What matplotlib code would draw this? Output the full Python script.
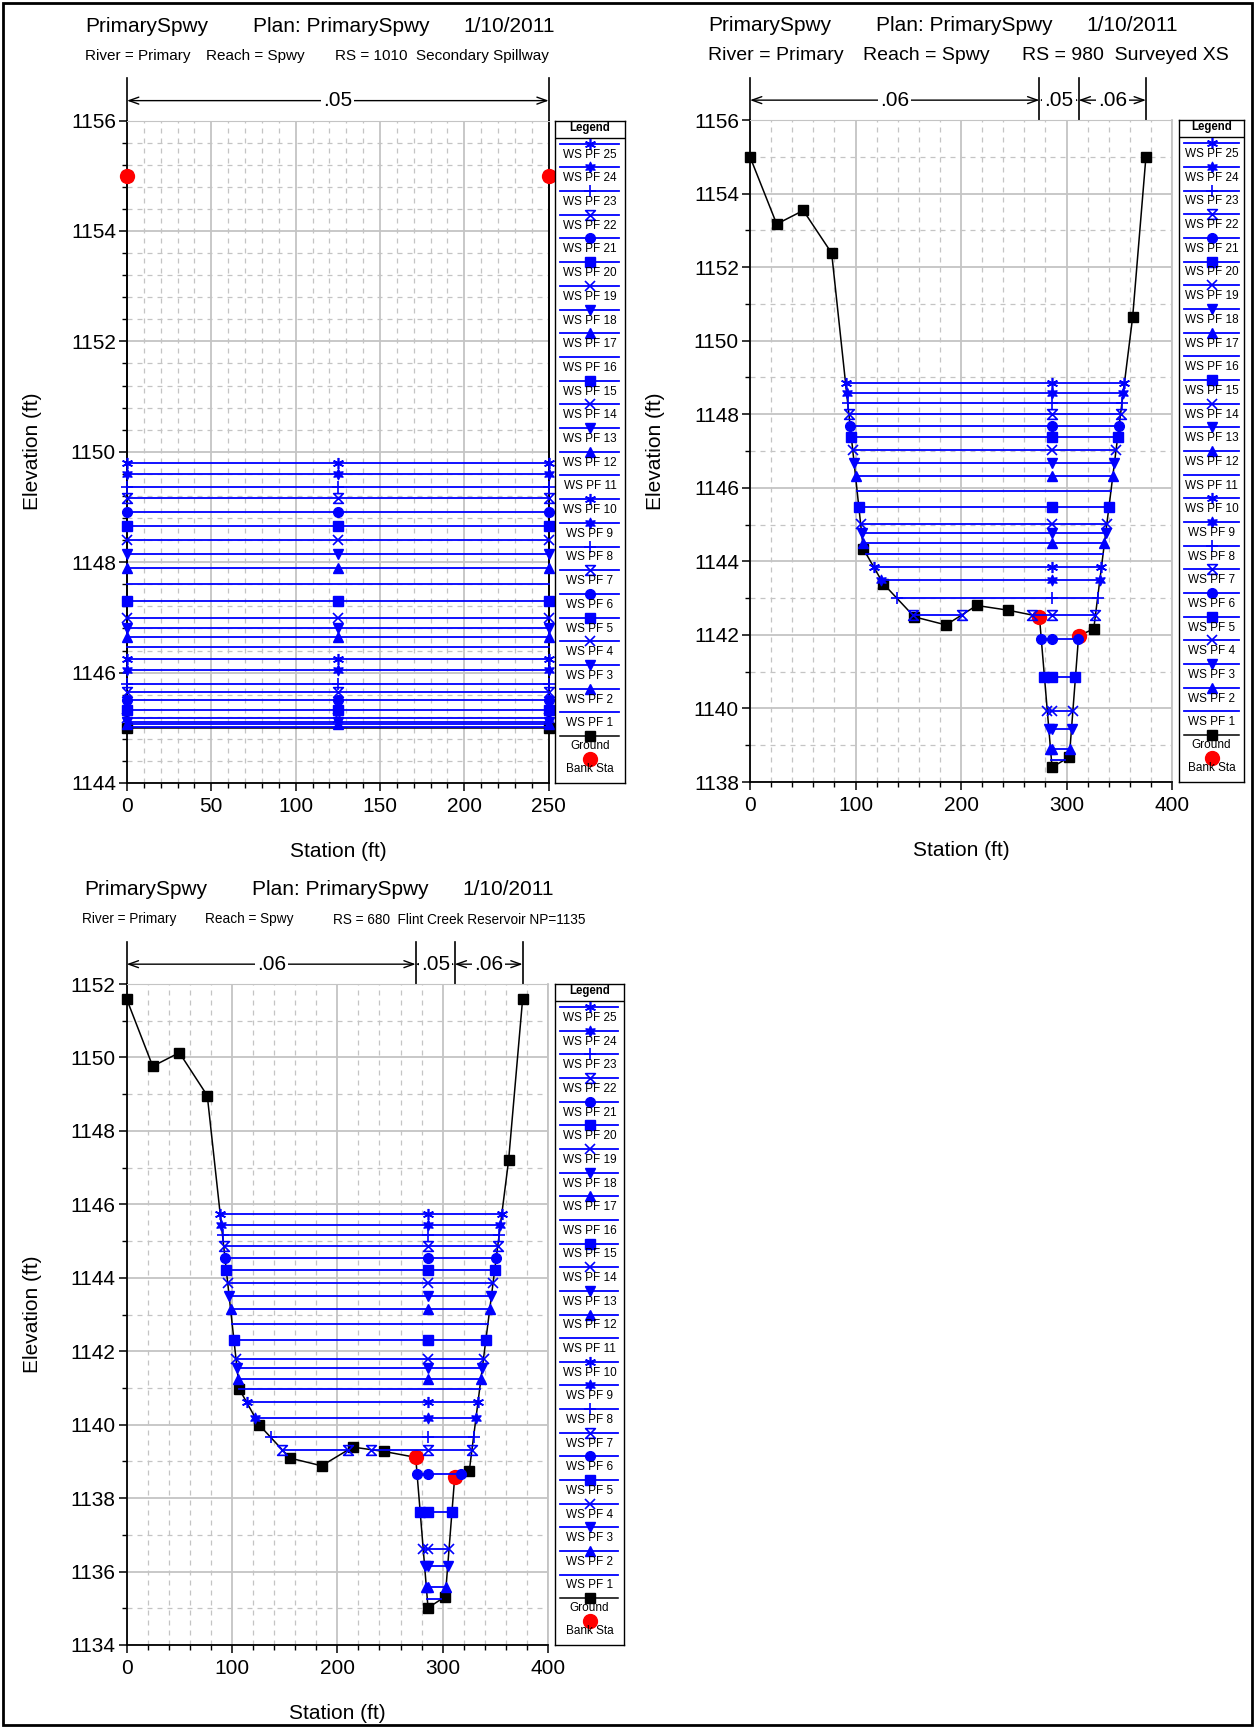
import matplotlib
matplotlib.use('Agg')
import matplotlib.pyplot as plt
from matplotlib.path import Path
from matplotlib.ticker import MultipleLocator
from matplotlib.transforms import blended_transform_factory
from matplotlib.patches import Rectangle

plt.rcParams['font.family'] = ['Liberation Sans', 'DejaVu Sans']

# ---- data -------------------------------------------------------------
pf_names = ['WS PF %d' % i for i in range(25, 0, -1)]
pf_marks = ['ast', 'star', 'plus', 'glass', 'o', 's', 'x', 'v', '^', None,
            's', 'x', 'v', '^', None,
            'ast', 'star', 'plus', 'glass', 'o', 's', 'x', 'v', '^', None]

# RS 1010 Secondary Spillway
g1010_sta = [0, 0, 250, 250]
g1010_elev = [1155.0, 1145.0, 1145.0, 1155.0]
bank1010_sta = [0, 250]
bank1010_elev = [1155.0, 1155.0]
ws1010 = [1149.80, 1149.60, 1149.37, 1149.16, 1148.91, 1148.66, 1148.41, 1148.14,
          1147.89, 1147.61, 1147.30, 1146.98, 1146.81, 1146.64, 1146.46, 1146.25,
          1146.04, 1145.79, 1145.65, 1145.50, 1145.32, 1145.17, 1145.11, 1145.07, 1145.02]
n1010_sta = [0, 250]
n1010_val = ['.05']

# RS 980 Surveyed XS
g980_sta = [0, 25.3, 50.5, 77.4, 107.4, 126.4, 155.8, 185.8, 214.9, 244.9,
            274.3, 286.3, 302.7, 311.5, 325.8, 362.7, 375.3]
g980_elev = [1155.0, 1153.17, 1153.54, 1152.38, 1144.34, 1143.39, 1142.49, 1142.27,
             1142.80, 1142.67, 1142.50, 1138.40, 1138.68, 1141.98, 1142.16, 1150.64, 1155.0]
bank980_sta = [274.3, 311.5]
bank980_elev = [1142.50, 1141.98]
ws980 = [1148.85, 1148.57, 1148.30, 1148.00, 1147.68, 1147.37, 1147.03, 1146.67,
         1146.31, 1145.91, 1145.48, 1145.01, 1144.77, 1144.50, 1144.19, 1143.84,
         1143.50, 1143.00, 1142.54, 1141.89, 1140.85, 1139.92, 1139.45, 1138.91, 1138.61]
n980_sta = [0, 274.3, 311.5, 375.3]
n980_val = ['.06', '.05', '.06']

# RS 680 Flint Creek Reservoir
g680_sta = [0, 24.7, 50.0, 76.5, 106.9, 125.9, 155.0, 185.1, 214.6, 244.3,
            274.4, 286.1, 302.5, 311.4, 325.3, 362.6, 375.9]
g680_elev = [1151.59, 1149.76, 1150.13, 1148.96, 1140.97, 1139.99, 1139.09, 1138.88,
             1139.39, 1139.27, 1139.11, 1135.01, 1135.32, 1138.57, 1138.75, 1147.20, 1151.59]
bank680_sta = [274.4, 311.4]
bank680_elev = [1139.11, 1138.57]
ws680 = [1145.74, 1145.45, 1145.16, 1144.86, 1144.55, 1144.21, 1143.87, 1143.51,
         1143.14, 1142.73, 1142.30, 1141.80, 1141.53, 1141.25, 1140.97, 1140.61,
         1140.18, 1139.66, 1139.32, 1138.65, 1137.61, 1136.62, 1136.14, 1135.57, 1135.25]
n680_sta = [0, 274.4, 311.4, 375.9]
n680_val = ['.06', '.05', '.06']

title_parts = ['PrimarySpwy', 'Plan: PrimarySpwy', '1/10/2011']

W, H = 1255, 1728
BLUE = '#0000ff'
GRID = '#c4c4c4'

glass = Path([(-1, 1), (1, 1), (-1, -1), (1, -1), (-1, 1)],
             [Path.MOVETO, Path.LINETO, Path.LINETO, Path.LINETO, Path.CLOSEPOLY])
mstyle = {
    'ast': dict(marker=(6, 2, 0), ms=8, mew=1.2),
    'star': dict(marker=(6, 1, 0), ms=8, mew=0.8),
    'plus': dict(marker='+', ms=9, mew=1.2),
    'glass': dict(marker=glass, ms=7, mfc='none', mew=1.2),
    'o': dict(marker='o', ms=7),
    's': dict(marker='s', ms=7),
    'x': dict(marker='x', ms=7, mew=1.2),
    'v': dict(marker='v', ms=7),
    '^': dict(marker='^', ms=7),
}


def wet_spans(sta, elev, z):
    xs = []
    for i in range(len(sta) - 1):
        e0, e1 = elev[i], elev[i + 1]
        if (e0 > z) != (e1 > z):
            xs.append(sta[i] + (z - e0) / (e1 - e0) * (sta[i + 1] - sta[i]))
    return [(xs[k], xs[k + 1]) for k in range(0, len(xs) - 1, 2)]


def px_axes(left, top, right, bottom):
    return fig.add_axes([left / W, 1 - bottom / H, (right - left) / W, (bottom - top) / H])


fig = plt.figure(figsize=(W / 100, H / 100), dpi=100)

panels = [
    dict(box=(127, 120.5, 548.7, 783), leg=(555, 625), xlim=(0, 250), ylim=(1144, 1156),
         xmaj=50, ymaj=2, ymin=0.4, gs=g1010_sta, ge=g1010_elev, bs=bank1010_sta,
         be=bank1010_elev, ws=ws1010, mid=125, ns=n1010_sta, nv=n1010_val,
         sub=[('River = Primary', -42), ('Reach = Spwy', 79), ('RS = 1010  Secondary Spillway', 208)],
         subsize=11, rspine='k'),
    dict(box=(750, 120, 1172, 782), leg=(1179, 1244), xlim=(0, 400), ylim=(1138, 1156),
         xmaj=100, ymaj=2, ymin=1, gs=g980_sta, ge=g980_elev, bs=bank980_sta,
         be=bank980_elev, ws=ws980, mid=286, ns=n980_sta, nv=n980_val,
         sub=[('River = Primary', -42), ('Reach = Spwy', 113), ('RS = 980  Surveyed XS', 272)],
         subsize=14, rspine=GRID),
    dict(box=(126.7, 984, 548, 1645), leg=(555, 624), xlim=(0, 400), ylim=(1134, 1152),
         xmaj=100, ymaj=2, ymin=1, gs=g680_sta, ge=g680_elev, bs=bank680_sta,
         be=bank680_elev, ws=ws680, mid=286, ns=n680_sta, nv=n680_val,
         sub=[('River = Primary', -45), ('Reach = Spwy', 78),
              ('RS = 680  Flint Creek Reservoir NP=1135', 206)],
         subsize=9.8, rspine=GRID),
]

for p in panels:
    l, t, r, b = p['box']
    ax = px_axes(l, t, r, b)
    ax.set_xlim(*p['xlim'])
    ax.set_ylim(*p['ylim'])
    ax.xaxis.set_major_locator(MultipleLocator(p['xmaj']))
    ax.xaxis.set_minor_locator(MultipleLocator(p['xmaj'] / 5))
    ax.yaxis.set_major_locator(MultipleLocator(p['ymaj']))
    ax.yaxis.set_minor_locator(MultipleLocator(p['ymin']))
    ax.set_axisbelow(True)
    ax.grid(which='major', color=GRID, lw=1.3, ls='-')
    ax.grid(which='minor', color=GRID, lw=0.9, ls=(0, (4, 4)))
    ax.tick_params(which='major', direction='out', length=6, width=1.1, labelsize=15, pad=2)
    ax.tick_params(which='minor', direction='out', length=3.5, width=1.0)
    ax.tick_params(axis='x', which='major', pad=4)
    for s in ['left', 'bottom']:
        ax.spines[s].set_linewidth(1.3)
    ax.spines['top'].set_color(GRID)
    ax.spines['right'].set_color(p['rspine'])
    ax.spines['right'].set_linewidth(1.3)

    # ground and bank stations
    ax.plot(p['gs'], p['ge'], color='k', lw=1.1, marker='s', ms=7, zorder=3, clip_on=False)
    ax.plot(p['bs'], p['be'], ls='none', marker='o', ms=10, color='#ff0000', zorder=4, clip_on=False)

    # water surfaces
    for z, mk in zip(p['ws'], p['ws'] and pf_marks):
        spans = wet_spans(p['gs'], p['ge'], z)
        pts = []
        for a, c in spans:
            ax.plot([a, c], [z, z], color=BLUE, lw=1.3, zorder=5, clip_on=False)
            pts += [a, c]
            if a <= p['mid'] <= c:
                pts.append(p['mid'])
        if mk is not None:
            ax.plot(pts, [z] * len(pts), ls='none', color=BLUE, zorder=6, clip_on=False,
                    **mstyle[mk])

    # Manning's n bar
    tr = blended_transform_factory(ax.transData, ax.transAxes)
    for s in p['ns']:
        ax.plot([s, s], [1.0, 1.064], transform=tr, color='k', lw=1.2, clip_on=False)
    for i, lab in enumerate(p['nv']):
        a, c = p['ns'][i], p['ns'][i + 1]
        ax.annotate('', xy=(c, 1.030), xytext=(a, 1.030), xycoords=tr, textcoords=tr,
                    arrowprops=dict(arrowstyle='<->,head_length=0.7,head_width=0.25',
                                    lw=1.0, shrinkA=0, shrinkB=0))
        ax.text((a + c) / 2, 1.030, lab, transform=tr, ha='center', va='center', fontsize=15,
                bbox=dict(fc='white', ec='none', pad=1.5))

    ax.text(-0.223, 0.5, 'Elevation (ft)', rotation=90, transform=ax.transAxes,
            ha='center', va='center', fontsize=15)
    ax.text(0.5, -0.103, 'Station (ft)', transform=ax.transAxes,
            ha='center', va='center', fontsize=15)

    # titles
    for txt, off in zip(title_parts, [-42, 125.6, 336]):
        fig.text((l + off) / W, 1 - (t - 94.5) / H, txt, fontsize=15, ha='left', va='center')
    for txt, off in p['sub']:
        fig.text((l + off) / W, 1 - (t - 64.5) / H, txt, fontsize=p['subsize'],
                 ha='left', va='center')

    # legend box
    lg = px_axes(p['leg'][0], t, p['leg'][1], b)
    lg.set_xlim(0, 1)
    lg.set_ylim(0, 1)
    lg.set_xticks([])
    lg.set_yticks([])
    for s in lg.spines.values():
        s.set_linewidth(1.0)
    lg.text(0.5, 0.989, 'Legend', ha='center', va='center', fontsize=8.3, fontweight='bold')
    lg.plot([0, 1], [0.974, 0.974], color='k', lw=1.0)
    for i, (name, mk) in enumerate(zip(pf_names, pf_marks)):
        yl = 0.965 - i * 0.03577
        lg.plot([0.07, 0.92], [yl, yl], color=BLUE, lw=1.3)
        if mk is not None:
            lg.plot([0.5], [yl], ls='none', color=BLUE, **mstyle[mk])
        lg.text(0.5, yl - 0.0165, name, ha='center', va='center', fontsize=8.5)
    lg.plot([0.07, 0.92], [0.0704, 0.0704], color='k', lw=1.1)
    lg.plot([0.5], [0.0704], ls='none', marker='s', ms=7, color='k')
    lg.text(0.5, 0.0558, 'Ground', ha='center', va='center', fontsize=8.5)
    lg.plot([0.5], [0.0357], ls='none', marker='o', ms=10, color='#ff0000')
    lg.text(0.5, 0.0207, 'Bank Sta', ha='center', va='center', fontsize=8.5)

fig.add_artist(Rectangle((3 / W, 3 / H), 1 - 6.5 / W, 1 - 6 / H, transform=fig.transFigure,
                         fill=False, ec='k', lw=2.0))

fig.savefig('out.png', dpi=100)
